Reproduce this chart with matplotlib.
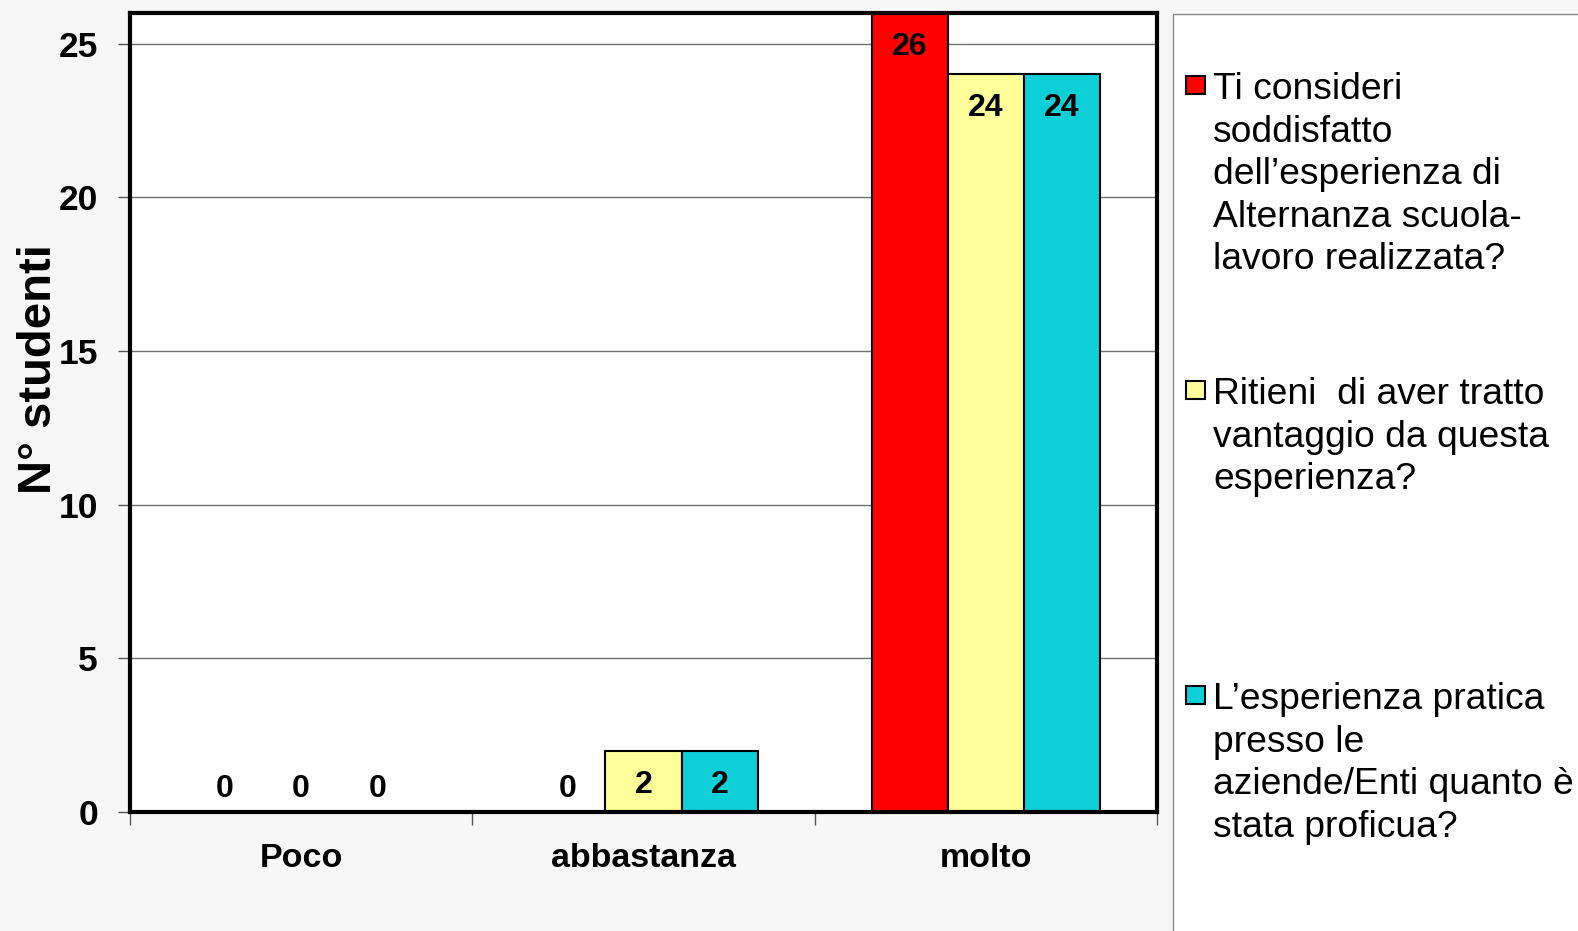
import numpy as np
import matplotlib.pyplot as plt
from matplotlib.patches import Rectangle

plt.rcParams['font.family'] = ['Liberation Sans', 'DejaVu Sans']

categorie = ['Poco', 'abbastanza', 'molto']
soddisfatto = [0, 0, 26]
vantaggio = [0, 2, 24]
proficua = [0, 2, 24]
serie = [soddisfatto, vantaggio, proficua]
colori = ['#ff0000', '#ffff99', '#0ccfd8']
domande = ['Ti consideri\nsoddisfatto\ndell’esperienza di\nAlternanza scuola-\nlavoro realizzata?',
           'Ritieni  di aver tratto\nvantaggio da questa\nesperienza?',
           'L’esperienza pratica\npresso le\naziende/Enti quanto è\nstata proficua?']
y_ticks = [0, 5, 10, 15, 20, 25]

W, H = 1578, 931
fig = plt.figure(figsize=(W / 100, H / 100), dpi=100, facecolor='#f7f7f7')
ax = fig.add_axes([130 / W, 1 - 812 / H, 1027 / W, 799 / H])
ax.set_facecolor('white')

x = np.arange(len(categorie))
larg = 0.2224
for i, vals in enumerate(serie):
    pos = x + (i - 1) * larg
    ax.bar(pos, vals, larg, color=colori[i], edgecolor='black', linewidth=1.5, zorder=3)
    for xp, v in zip(pos, vals):
        dy = 16.5 if v == 0 else -24.5
        ax.annotate(str(v), (xp, v), xytext=(0, dy), textcoords='offset points',
                    ha='center', va='center', fontsize=23, fontweight='bold', zorder=4)

ax.set_xlim(-0.5, 2.5)
ax.set_ylim(0, 26)
ax.set_yticks(y_ticks)
ax.yaxis.grid(True, color='#707070', linewidth=1, zorder=0)
ax.set_xticks(x)
ax.set_xticklabels(categorie, fontsize=24.5, fontweight='bold')
ax.set_xticks([-0.5, 0.5, 1.5, 2.5], minor=True)
ax.tick_params(axis='x', which='major', length=0, pad=22)
ax.tick_params(axis='x', which='minor', length=9, width=1, color='#555555')
ax.tick_params(axis='y', length=9, width=1, color='#555555', pad=14, labelsize=25.5)
for t in ax.get_yticklabels():
    t.set_fontweight('bold')
for s in ax.spines.values():
    s.set_linewidth(3)
    s.set_zorder(5)

ax.set_ylabel('N° studenti', fontsize=34, fontweight='bold')
ax.yaxis.set_label_coords(-0.067, 0.554)

# legenda a destra
box = Rectangle((1173 / W, -0.1), 0.5, 1 - 14 / H + 0.1, transform=fig.transFigure,
                facecolor='white', edgecolor='#888888', linewidth=1, clip_on=False)
fig.patches.append(box)
righe = [85, 390, 695]
for col, testo, yc in zip(colori, domande, righe):
    fig.patches.append(Rectangle((1186 / W, 1 - (yc + 9) / H), 19 / W, 18 / H,
                                 transform=fig.transFigure, facecolor=col,
                                 edgecolor='black', linewidth=1.5))
    fig.text(1213 / W, 1 - (yc - 13) / H, testo, fontsize=26.8, va='top',
             ha='left', linespacing=1.28)

fig.savefig('out.png', dpi=100, facecolor=fig.get_facecolor())
